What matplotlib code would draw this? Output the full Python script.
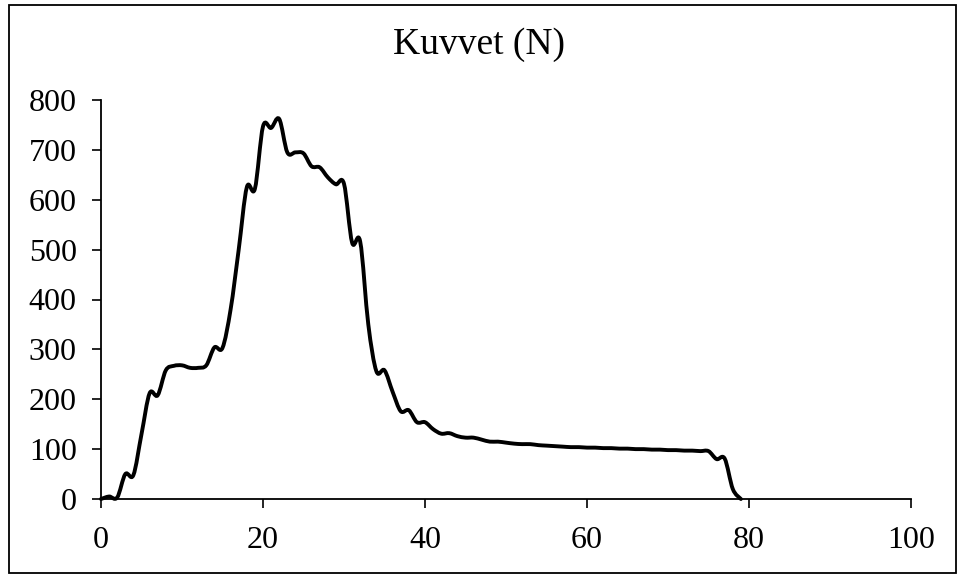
import matplotlib
matplotlib.use("Agg")
import matplotlib.pyplot as plt
import numpy as np
from matplotlib.path import Path
from matplotlib.patches import PathPatch, Rectangle

# force readings (N) at each sample, x = 0..79
time_s = list(range(0, 80))
force_n = [
    0, 5, 3, 50, 48, 130, 212, 208, 258, 267,
    268, 263, 263, 268, 304, 303, 380, 500, 625, 622,
    747, 744, 762, 695, 695, 693, 667, 665, 645, 631,
    632, 514, 516, 350, 256, 258, 215, 176, 178, 154,
    154, 140, 131, 132, 126, 123, 123, 119, 115, 115,
    113, 111, 110, 110, 108, 107, 106, 105, 104, 104,
    103, 103, 102, 102, 101, 101, 100, 100, 99, 99,
    98, 98, 97, 97, 96, 96, 80, 81, 20, 0,
]
x_ticks = [0, 20, 40, 60, 80, 100]
y_ticks = [0, 100, 200, 300, 400, 500, 600, 700, 800]
title = "Kuvvet (N)"


def smooth_path(xs, ys):
    """Build a cubic Bezier path through the points, like a spreadsheet smoothed line."""
    pts = np.column_stack([xs, ys]).astype(float)
    n = len(pts)
    verts = [pts[0]]
    codes = [Path.MOVETO]
    for i in range(n - 1):
        p0 = pts[max(i - 1, 0)]
        p1 = pts[i]
        p2 = pts[i + 1]
        p3 = pts[min(i + 2, n - 1)]
        c1 = p1 + (p2 - p0) / 6.0
        c2 = p2 - (p3 - p1) / 6.0
        verts += [c1, c2, p2]
        codes += [Path.CURVE4] * 3
    return Path(verts, codes)


plt.rcParams["font.family"] = ["Liberation Serif", "DejaVu Serif"]

fig = plt.figure(figsize=(9.58, 5.74), dpi=100)
ax = fig.add_axes([101 / 958, 1 - 499 / 574, 810 / 958, 399 / 574])

patch = PathPatch(smooth_path(time_s, force_n), facecolor="none",
                  edgecolor="black", linewidth=2.8, capstyle="round",
                  joinstyle="round", transform=ax.transData, clip_on=False)
ax.add_patch(patch)

ax.set_xlim(0, 100)
ax.set_ylim(0, 800)
ax.set_xticks(x_ticks)
ax.set_yticks(y_ticks)
ax.tick_params(direction="out", length=6.5, width=1.2, labelsize=23)
ax.tick_params(axis="x", pad=13)
ax.tick_params(axis="y", pad=11)
for side in ("top", "right"):
    ax.spines[side].set_visible(False)
for side in ("left", "bottom"):
    ax.spines[side].set_linewidth(1.3)

fig.text(0.5, 1 - 45 / 574, title, ha="center", va="center", fontsize=27)

# outer chart border
fig.patches.append(Rectangle((9 / 958, 1 / 574), 947 / 958, 568 / 574,
                             transform=fig.transFigure, fill=False,
                             edgecolor="black", linewidth=1.3))

fig.savefig("out.png", dpi=100)
